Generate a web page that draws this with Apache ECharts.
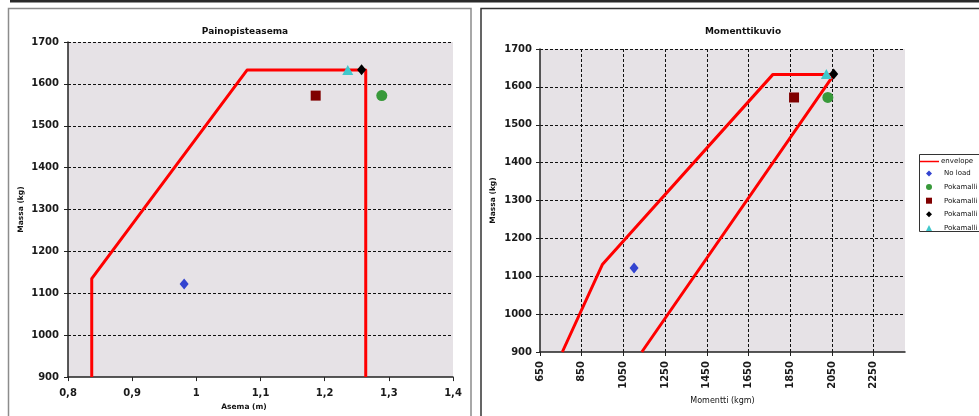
<!DOCTYPE html>
<html>
<head>
<meta charset="utf-8">
<script src="https://cdn.jsdelivr.net/npm/echarts@6/dist/echarts.min.js"></script>
<style>
html,body{margin:0;padding:0;background:#fff;}
#c{width:979px;height:416px;}
</style>
</head>
<body>
<div id="c"></div>
<script>
// ---- data: Painopisteasema (CG position m, mass kg) ----
const envelopeCG = [[0.837, 900], [0.837, 1135], [1.079, 1633], [1.264, 1633], [1.264, 900]];
const noLoadCG = [[0.981, 1122]];
const pok1CG = [[1.289, 1572]];
const pok2CG = [[1.186, 1572]];
const pok3CG = [[1.2575, 1634]];
const pok4CG = [[1.236, 1633]];

// ---- data: Momenttikuvio (moment kgm, mass kg) ----
const envelopeM = [[757, 900], [950, 1132], [1767, 1633], [2060, 1633], [1138, 900]];
const noLoadM = [[1101, 1122]];
const pok1M = [[2030, 1572]];
const pok2M = [[1868, 1572]];
const pok3M = [[2058, 1634]];
const pok4M = [[2023, 1634]];

const seriesNames = ['envelope', 'No load', 'Pokamalli 1', 'Pokamalli 2', 'Pokamalli 3', 'Pokamalli 4'];
const titles = ['Painopisteasema', 'Momenttikuvio'];
const axisNames = { x0: 'Asema (m)', x1: 'Momentti (kgm)', y: 'Massa (kg)' };

const FONT = 'DejaVu Sans';
const plainNum = v => String(v);
const labelStyle = { fontFamily: FONT, fontSize: 10, fontWeight: 'bold', color: '#1a1a1a', formatter: plainNum };
const axisLineStyle = { show: true, lineStyle: { color: '#222', width: 1.5 } };
const gridLine = { show: true, lineStyle: { color: '#111', width: 1, type: [3, 2] } };

const symbolDefs = [
  { sym: 'diamond', size: [9, 11], color: '#3344d0' },
  { sym: 'circle', size: 11, color: '#38993a' },
  { sym: 'rect', size: 10, color: '#800000' },
  { sym: 'diamond', size: [9, 11], color: '#000000' },
  { sym: 'triangle', size: [11, 10], color: '#40c8cc' }
];

function pts(gi, arrs) {
  return arrs.map((d, i) => ({
    name: seriesNames[i + 1], type: 'scatter', xAxisIndex: gi, yAxisIndex: gi,
    data: d, symbol: symbolDefs[i].sym, symbolSize: symbolDefs[i].size,
    itemStyle: { color: symbolDefs[i].color, opacity: 1 }, z: 5
  }));
}

const chart = echarts.init(document.getElementById('c'), null, { renderer: 'canvas' });
const legendText = { fontFamily: FONT, fontSize: 7, color: '#111' };
const option = {
  animation: false,
  backgroundColor: '#ffffff',
  textStyle: { fontFamily: FONT },
  graphic: [
    { type: 'rect', shape: { x: 10, y: 0, width: 980, height: 2.5 }, style: { fill: '#2a2a2a' }, silent: true },
    { type: 'rect', shape: { x: 8.5, y: 8.5, width: 462.5, height: 430 }, style: { fill: 'none', stroke: '#8c8c8c', lineWidth: 1.5 }, silent: true },
    { type: 'rect', shape: { x: 481, y: 8.5, width: 530, height: 430 }, style: { fill: 'none', stroke: '#333', lineWidth: 1.5 }, silent: true },
    { type: 'rect', z: 0, shape: { x: 919.5, y: 154.5, width: 100, height: 77 }, style: { fill: '#fff', stroke: '#333', lineWidth: 1 }, silent: true }
  ],
  title: [
    { text: titles[0], left: 240, top: 22, textAlign: 'center', textStyle: { fontFamily: FONT, fontSize: 9, fontWeight: 'bold', color: '#111' } },
    { text: titles[1], left: 738, top: 22, textAlign: 'center', textStyle: { fontFamily: FONT, fontSize: 9, fontWeight: 'bold', color: '#111' } }
  ],
  legend: [
    { orient: 'vertical', left: 920, top: 158, padding: 0,
      data: [{ name: seriesNames[0], icon: 'rect' }],
      itemWidth: 19, itemHeight: 1.5, itemGap: 5,
      textStyle: Object.assign({ padding: [0, 0, 0, -3] }, legendText) },
    { orient: 'vertical', left: 926, top: 170, padding: 0,
      data: seriesNames.slice(1),
      itemWidth: 6, itemHeight: 6, itemGap: 6.6,
      textStyle: Object.assign({ padding: [0, 0, 0, 7] }, legendText) }
  ],
  grid: [
    { left: 68, top: 42, width: 385, height: 342, show: true, backgroundColor: '#e6e2e6', borderWidth: 0 },
    { left: 540, top: 49, width: 365, height: 303, show: true, backgroundColor: '#e6e2e6', borderWidth: 0 }
  ],
  xAxis: [
    { type: 'value', gridIndex: 0, min: 0.8, max: 1.4, interval: 0.1,
      axisLine: axisLineStyle, axisTick: { show: true, length: 4, lineStyle: { color: '#222' } },
      splitLine: { show: false },
      axisLabel: Object.assign({}, labelStyle, { margin: 11, formatter: v => String(+v.toFixed(2)).replace('.', ',') }),
      name: axisNames.x0, nameLocation: 'middle', nameGap: 20,
      nameTextStyle: { fontFamily: FONT, fontSize: 7.5, fontWeight: 'bold', color: '#111', padding: [0, 33, 0, 0] } },
    { type: 'value', gridIndex: 1, min: 650, max: 2400, interval: 200,
      axisLine: axisLineStyle, axisTick: { show: true, length: 4, lineStyle: { color: '#222' } },
      splitLine: Object.assign({ showMinLine: false, showMaxLine: false }, gridLine),
      axisLabel: Object.assign({}, labelStyle, { rotate: 90, margin: 9, showMaxLabel: false }),
      name: axisNames.x1, nameLocation: 'middle', nameGap: 41,
      nameTextStyle: { fontFamily: FONT, fontSize: 8, color: '#111' } }
  ],
  yAxis: [
    { type: 'value', gridIndex: 0, min: 900, max: 1700, interval: 100,
      axisLine: axisLineStyle, axisTick: { show: true, length: 4, lineStyle: { color: '#222' } },
      splitLine: Object.assign({ showMinLine: false }, gridLine),
      axisLabel: Object.assign({}, labelStyle, { margin: 9 }),
      name: axisNames.y, nameLocation: 'middle', nameGap: 43,
      nameTextStyle: { fontFamily: FONT, fontSize: 7.5, fontWeight: 'bold', color: '#111' } },
    { type: 'value', gridIndex: 1, min: 900, max: 1700, interval: 100,
      axisLine: axisLineStyle, axisTick: { show: true, length: 4, lineStyle: { color: '#222' } },
      splitLine: Object.assign({ showMinLine: false }, gridLine),
      axisLabel: Object.assign({}, labelStyle, { margin: 8 }),
      name: axisNames.y, nameLocation: 'middle', nameGap: 43,
      nameTextStyle: { fontFamily: FONT, fontSize: 7.5, fontWeight: 'bold', color: '#111' } }
  ],
  series: [
    { name: seriesNames[0], type: 'line', xAxisIndex: 0, yAxisIndex: 0, data: envelopeCG,
      symbol: 'none', lineStyle: { color: '#ff0000', width: 3, join: 'round' }, itemStyle: { color: '#ff0000' }, z: 3 },
    { name: seriesNames[0], type: 'line', xAxisIndex: 1, yAxisIndex: 1, data: envelopeM,
      symbol: 'none', lineStyle: { color: '#ff0000', width: 3, join: 'round' }, itemStyle: { color: '#ff0000' }, z: 3 }
  ].concat(pts(0, [noLoadCG, pok1CG, pok2CG, pok3CG, pok4CG]))
   .concat(pts(1, [noLoadM, pok1M, pok2M, pok3M, pok4M]))
};
chart.setOption(option);
</script>
</body>
</html>
